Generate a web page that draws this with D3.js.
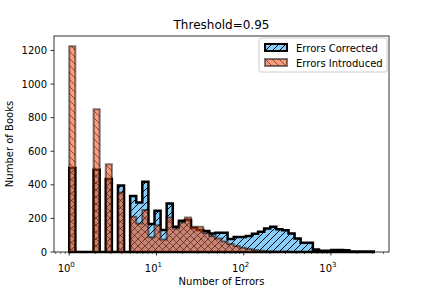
<!DOCTYPE html>
<html>
<head>
<meta charset="utf-8">
<script src="https://cdn.jsdelivr.net/npm/d3@7"></script>
<style>
  body { margin: 0; background: #fff; }
  text { font-family: "DejaVu Sans", sans-serif; }
</style>
</head>
<body>
<div id="chart"></div>
<script>
// histogram counts per log-spaced bin (50 bins from 1 to ~3100)
const corrected = [500, 0, 0, 0, 490, 0, 435, 0, 396, 0,
  334, 295, 418, 166, 245, 131, 289, 150, 186, 190,
  143, 131, 125, 110, 115, 115, 78, 90, 90, 95,
  108, 120, 140, 150, 135, 130, 110, 80, 55, 55,
  15, 8, 8, 12, 12, 10, 3, 3, 3, 3];
const introduced = [1225, 0, 0, 0, 850, 0, 523, 0, 355, 0,
  210, 170, 250, 88, 160, 75, 205, 140, 175, 205,
  150, 150, 113, 95, 80, 62, 48, 35, 25, 18,
  12, 8, 5, 3, 2, 1, 0, 0, 0, 0,
  0, 0, 0, 0, 0, 0, 0, 0, 0, 0];
const binMin = 1, binMax = 3100;
const seriesNames = ['Errors Corrected', 'Errors Introduced'];
const yTicks = [0, 200, 400, 600, 800, 1000, 1200];
const xMajor = [1, 10, 100, 1000];

const W = 432, H = 288;
const margin = { top: 36, right: 43, bottom: 36, left: 54 };
const width = W - margin.left - margin.right;
const height = H - margin.top - margin.bottom;

const nBins = corrected.length;
const lo = Math.log10(binMin), hi = Math.log10(binMax);
const edges = d3.range(nBins + 1).map((i) => Math.pow(10, lo + (hi - lo) * i / nBins));

const pad = (hi - lo) * 0.05;
const x = d3.scaleLog().domain([Math.pow(10, lo - pad), Math.pow(10, hi + pad)]).range([0, width]);
const yMax = d3.max(corrected.concat(introduced)) * 1.05;
const y = d3.scaleLinear().domain([0, yMax]).range([height, 0]);

const svg = d3.select('#chart').append('svg')
  .attr('width', W).attr('height', H);

const defs = svg.append('defs');
function hatch(id, s, dir, color, op) {
  const p = defs.append('pattern').attr('id', id)
    .attr('patternUnits', 'userSpaceOnUse').attr('width', s).attr('height', s);
  const segs = dir === '/'
    ? [[0, s, s, 0], [-1, 1, 1, -1], [s - 1, s + 1, s + 1, s - 1]]
    : [[0, 0, s, s], [-1, s - 1, 1, s + 1], [s - 1, -1, s + 1, 1]];
  segs.forEach((d) => p.append('line')
    .attr('x1', d[0]).attr('y1', d[1]).attr('x2', d[2]).attr('y2', d[3])
    .attr('stroke', color).attr('stroke-opacity', op).attr('stroke-width', 1));
}
hatch('hBlue', 7, '/', '#000', 1);
hatch('hOrange', 7, '\\', '#5a1400', 0.6);

const g = svg.append('g').attr('transform', `translate(${margin.left},${margin.top})`);

function stepPath(counts) {
  const pts = [[edges[0], 0]];
  counts.forEach((c, i) => { pts.push([edges[i], c]); pts.push([edges[i + 1], c]); });
  pts.push([edges[nBins], 0]);
  return d3.line().x((d) => x(d[0])).y((d) => y(d[1]))(pts) + 'Z';
}

// Errors Corrected
const pc = stepPath(corrected);
g.append('path').attr('d', pc).attr('fill', '#87cefa');
g.append('path').attr('d', pc).attr('fill', 'url(#hBlue)');
g.append('path').attr('d', pc).attr('fill', 'none')
  .attr('stroke', '#000').attr('stroke-width', 2.5).attr('stroke-linejoin', 'miter');

// Errors Introduced
const pi = stepPath(introduced);
g.append('path').attr('d', pi).attr('fill', '#f04a10').attr('fill-opacity', 0.55);
g.append('path').attr('d', pi).attr('fill', 'url(#hOrange)');
g.append('path').attr('d', pi).attr('fill', 'none')
  .attr('stroke', '#000').attr('stroke-opacity', 0.5).attr('stroke-width', 2);

// axes
const xAxis = g.append('g').attr('transform', `translate(0,${height})`);
const [d0, d1] = x.domain();
const minor = [];
for (let e = Math.floor(Math.log10(d0)); e <= Math.ceil(Math.log10(d1)); e++) {
  for (let k = 2; k <= 9; k++) {
    const v = k * Math.pow(10, e);
    if (v >= d0 && v <= d1) minor.push(v);
  }
}
xAxis.selectAll('.minor').data(minor).enter().append('line')
  .attr('x1', (d) => x(d)).attr('x2', (d) => x(d)).attr('y1', 0).attr('y2', 2)
  .attr('stroke', '#000').attr('stroke-width', 0.6);
xAxis.selectAll('.major').data(xMajor).enter().append('line')
  .attr('x1', (d) => x(d)).attr('x2', (d) => x(d)).attr('y1', 0).attr('y2', 3.5)
  .attr('stroke', '#000').attr('stroke-width', 0.8);
const xl = xAxis.selectAll('.xl').data(xMajor).enter().append('text')
  .attr('x', (d) => x(d) - 3).attr('y', 20).attr('text-anchor', 'middle')
  .attr('font-size', 10).attr('fill', '#000');
xl.append('tspan').text('10');
xl.append('tspan').attr('dy', -5).attr('font-size', 7).text((d) => Math.round(Math.log10(d)));

const yAxis = g.append('g');
yAxis.selectAll('line').data(yTicks).enter().append('line')
  .attr('x1', -3.5).attr('x2', 0).attr('y1', (d) => y(d)).attr('y2', (d) => y(d))
  .attr('stroke', '#000').attr('stroke-width', 0.8);
yAxis.selectAll('text').data(yTicks).enter().append('text')
  .attr('x', -7).attr('y', (d) => y(d)).attr('dy', '0.35em')
  .attr('text-anchor', 'end').attr('font-size', 10).attr('fill', '#000')
  .text((d) => d);

g.append('rect').attr('width', width).attr('height', height)
  .attr('fill', 'none').attr('stroke', '#000').attr('stroke-width', 0.8);

// labels
svg.append('text').attr('x', margin.left + width / 2).attr('y', 29)
  .attr('text-anchor', 'middle').attr('font-size', 12).text('Threshold=0.95');
svg.append('text').attr('x', margin.left + width / 2).attr('y', 285)
  .attr('text-anchor', 'middle').attr('font-size', 10).text('Number of Errors');
svg.append('text').attr('transform', `translate(13,${margin.top + height / 2}) rotate(-90)`)
  .attr('text-anchor', 'middle').attr('font-size', 10).text('Number of Books');

// legend
const lg = g.append('g').attr('transform', `translate(${width - 130},2)`);
lg.append('rect').attr('width', 128).attr('height', 34).attr('rx', 2)
  .attr('fill', '#fff').attr('fill-opacity', 0.8).attr('stroke', '#ccc');
seriesNames.forEach((name, i) => {
  const row = lg.append('g').attr('transform', `translate(6,${6 + i * 15})`);
  if (i === 0) {
    row.append('rect').attr('width', 22).attr('height', 7).attr('fill', '#87cefa');
    row.append('rect').attr('width', 22).attr('height', 7).attr('fill', 'url(#hBlue)')
      .attr('stroke', '#000').attr('stroke-width', 2);
  } else {
    row.append('rect').attr('width', 22).attr('height', 7).attr('fill', '#f04a10').attr('fill-opacity', 0.55);
    row.append('rect').attr('width', 22).attr('height', 7).attr('fill', 'url(#hOrange)')
      .attr('stroke', '#000').attr('stroke-opacity', 0.5).attr('stroke-width', 2);
  }
  row.append('text').attr('x', 31).attr('y', 7.5).attr('font-size', 10).text(name);
});
</script>
</body>
</html>
